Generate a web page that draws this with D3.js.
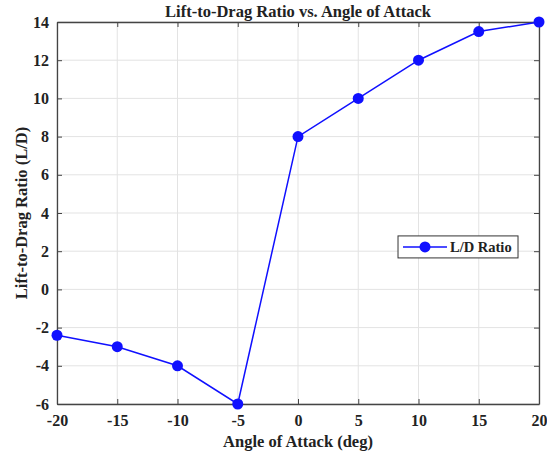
<!DOCTYPE html>
<html>
<head>
<meta charset="utf-8">
<script src="https://cdn.jsdelivr.net/npm/d3@7"></script>
<style>
	body { margin: 0; background: #fff; }
	svg text { font-family: "Liberation Serif", "Times New Roman", serif; font-weight: bold; fill: #222; }
	.grid line { stroke: #e3e3e3; stroke-width: 1; }
	.axis path, .axis line { stroke: #444; }
</style>
</head>
<body>
<script>
// data
const angles = [-20, -15, -10, -5, 0, 5, 10, 15, 20];
const ldRatio = [-2.4, -3, -4, -6, 8, 10, 12, 13.5, 14];
const xTicks = [-20, -15, -10, -5, 0, 5, 10, 15, 20];
const yTicks = [-6, -4, -2, 0, 2, 4, 6, 8, 10, 12, 14];

const svgWidth = 547, svgHeight = 455;
const margin = {top: 22, right: 8, bottom: 51, left: 57};
const width = svgWidth - margin.left - margin.right;
const height = svgHeight - margin.top - margin.bottom;
const lineColor = "#1010ff";

const svg = d3.select("body").append("svg")
	.attr("width", svgWidth)
	.attr("height", svgHeight);

const g = svg.append("g")
	.attr("transform", `translate(${margin.left},${margin.top})`);

const x = d3.scaleLinear().domain([-20, 20]).range([0, width]);
const y = d3.scaleLinear().domain([-6, 14]).range([height, 0]);

// grid
g.append("g").attr("class", "grid")
	.selectAll("line.gx").data(xTicks).join("line")
	.attr("x1", d => x(d)).attr("x2", d => x(d))
	.attr("y1", 0).attr("y2", height);
g.append("g").attr("class", "grid")
	.selectAll("line.gy").data(yTicks).join("line")
	.attr("y1", d => y(d)).attr("y2", d => y(d))
	.attr("x1", 0).attr("x2", width);

// axes, ticks inward, box on all sides
const tickLen = 5;
const plain = d => String(d);   // ascii hyphen like the original
const styleAxis = sel => {
	sel.attr("class", "axis");
	sel.select(".domain").attr("stroke", "#444").attr("stroke-width", 1.3);
	sel.selectAll("text").style("font-size", "16px");
};

g.append("g")
	.attr("transform", `translate(0,${height})`)
	.call(d3.axisBottom(x).tickValues(xTicks).tickFormat(plain).tickSizeInner(-tickLen).tickSizeOuter(0).tickPadding(11))
	.call(styleAxis);

g.append("g")
	.call(d3.axisLeft(y).tickValues(yTicks).tickFormat(plain).tickSizeInner(-tickLen).tickSizeOuter(0).tickPadding(8))
	.call(styleAxis);

g.append("g")
	.call(d3.axisTop(x).tickValues(xTicks).tickSizeInner(-tickLen).tickSizeOuter(0).tickFormat(""))
	.call(styleAxis);

g.append("g")
	.attr("transform", `translate(${width},0)`)
	.call(d3.axisRight(y).tickValues(yTicks).tickSizeInner(-tickLen).tickSizeOuter(0).tickFormat(""))
	.call(styleAxis);

// series
const line = d3.line()
	.x((d, i) => x(angles[i]))
	.y(d => y(d));

g.append("path")
	.datum(ldRatio)
	.attr("fill", "none")
	.attr("stroke", lineColor)
	.attr("stroke-width", 1.5)
	.attr("d", line);

g.selectAll("circle.dot")
	.data(ldRatio)
	.join("circle")
	.attr("class", "dot")
	.attr("cx", (d, i) => x(angles[i]))
	.attr("cy", d => y(d))
	.attr("r", 5.5)
	.attr("fill", lineColor);

// legend
const legend = g.append("g")
	.attr("transform", `translate(${x(8.3)},${y(2.8)})`);

legend.append("rect")
	.attr("width", 120)
	.attr("height", 22)
	.attr("fill", "#fff")
	.attr("stroke", "#333")
	.attr("stroke-width", 1);

legend.append("line")
	.attr("x1", 5).attr("x2", 49)
	.attr("y1", 11).attr("y2", 11)
	.attr("stroke", lineColor)
	.attr("stroke-width", 1.5);

legend.append("circle")
	.attr("cx", 27).attr("cy", 11).attr("r", 5.5)
	.attr("fill", lineColor);

legend.append("text")
	.attr("x", 52).attr("y", 16)
	.style("font-size", "14.5px")
	.text("L/D Ratio");

// labels
svg.append("text")
	.attr("x", margin.left + width / 2)
	.attr("y", 17)
	.attr("text-anchor", "middle")
	.style("font-size", "16.5px")
	.text("Lift-to-Drag Ratio vs. Angle of Attack");

svg.append("text")
	.attr("x", margin.left + width / 2)
	.attr("y", 447)
	.attr("text-anchor", "middle")
	.style("font-size", "16.5px")
	.text("Angle of Attack (deg)");

svg.append("text")
	.attr("transform", `translate(27,${margin.top + height / 2}) rotate(-90)`)
	.attr("text-anchor", "middle")
	.style("font-size", "16.5px")
	.text("Lift-to-Drag Ratio (L/D)");
</script>
</body>
</html>
